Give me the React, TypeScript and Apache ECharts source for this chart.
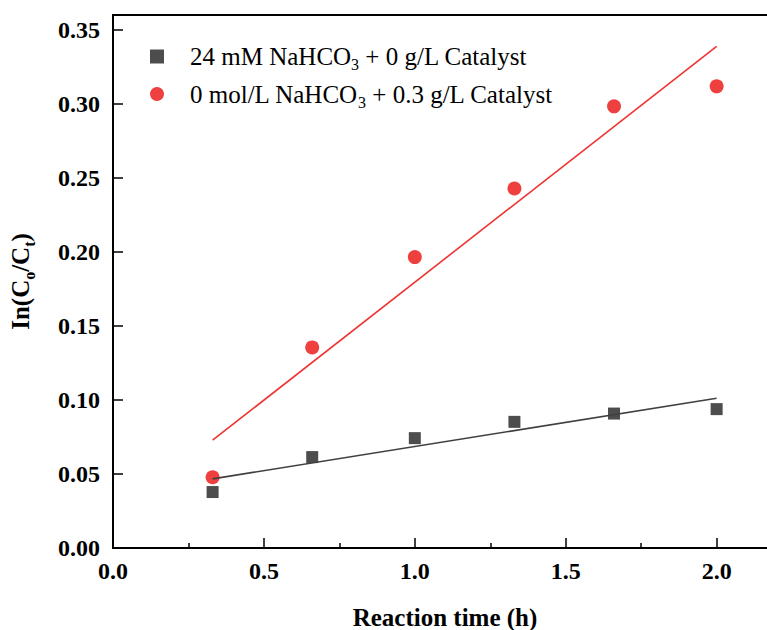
import React, { useEffect, useRef } from "react";
import * as echarts from "echarts";

const timeH = [0.33, 0.66, 1.0, 1.33, 1.66, 2.0];
const bicarbValues = [0.0378, 0.0614, 0.0742, 0.0852, 0.0908, 0.0938];
const catalystValues = [0.0478, 0.1355, 0.1965, 0.2428, 0.2983, 0.3118];
const bicarbFit = [[0.33, 0.0467], [2.0, 0.1012]];
const catalystFit = [[0.33, 0.0728], [2.0, 0.3388]];
const legendNames = ["24 mM NaHCO3 + 0 g/L Catalyst", "0 mol/L NaHCO3 + 0.3 g/L Catalyst"];

const FONT = "'Liberation Serif', 'Times New Roman', serif";

export default function App() {
  const ref = useRef<HTMLDivElement>(null);
  useEffect(() => {
    if (!ref.current) return;
    const chart = echarts.init(ref.current, null, { renderer: "svg" });
    const richLegend = {
      a: { fontSize: 25, fontFamily: FONT, color: "#000", lineHeight: 32, verticalAlign: "middle" },
      sub: { fontSize: 16, fontFamily: FONT, color: "#000", lineHeight: 32, verticalAlign: "bottom" },
    };
    const richName = {
      a: { fontSize: 25, fontWeight: "bold", fontFamily: FONT, color: "#000", lineHeight: 34, verticalAlign: "middle" },
      sub: { fontSize: 16, fontWeight: "bold", fontFamily: FONT, color: "#000", lineHeight: 34, verticalAlign: "bottom" },
    };
    chart.setOption({
      animation: false,
      backgroundColor: "#fff",
      grid: {
        left: 113,
        top: 15,
        bottom: 82,
        right: -10,
        show: true,
        borderColor: "#000",
        borderWidth: 2,
        containLabel: false,
        outerBoundsMode: "none",
      },
      legend: {
        left: 150,
        top: 44,
        padding: 0,
        orient: "vertical",
        itemWidth: 14,
        itemHeight: 14,
        itemGap: 9,
        data: [
          { name: legendNames[0], icon: "rect" },
          { name: legendNames[1], icon: "circle" },
        ],
        formatter: (name: string) => {
          const parts = name.split("NaHCO3");
          return "{a|" + parts[0] + "NaHCO}{sub|3}{a|" + parts[1] + "}";
        },
        textStyle: { rich: richLegend, padding: [0, 0, 0, 21] },
      },
      xAxis: {
        type: "value",
        min: 0,
        max: 2.2,
        interval: 0.5,
        name: "Reaction time (h)",
        nameLocation: "middle",
        nameGap: 57,
        nameTextStyle: { fontSize: 25, fontWeight: "bold", fontFamily: FONT, color: "#000" },
        axisLine: { lineStyle: { color: "#000", width: 2 } },
        axisTick: { inside: true, length: 10, lineStyle: { color: "#000", width: 1.5 } },
        minorTick: { show: true, splitNumber: 2, length: 5, lineStyle: { color: "#000", width: 1.5 } },
        splitLine: { show: false },
        axisLabel: {
          showMaxLabel: false,
          margin: 11,
          fontSize: 24,
          fontWeight: "bold",
          fontFamily: FONT,
          color: "#000",
          formatter: (v: number) => v.toFixed(1),
        },
      },
      yAxis: {
        type: "value",
        min: 0,
        max: 0.36,
        interval: 0.05,
        name: "{a|In(C}{sub|o}{a|/C}{sub|t}{a|)}",
        nameLocation: "middle",
        nameGap: 76,
        nameRotate: 90,
        nameTextStyle: { rich: richName },
        axisLine: { lineStyle: { color: "#000", width: 2 } },
        axisTick: { inside: true, length: 10, lineStyle: { color: "#000", width: 1.5 } },
        splitLine: { show: false },
        axisLabel: {
          showMaxLabel: false,
          margin: 13,
          fontSize: 24,
          fontWeight: "bold",
          fontFamily: FONT,
          color: "#000",
          formatter: (v: number) => v.toFixed(2),
        },
      },
      series: [
        {
          name: legendNames[0],
          type: "scatter",
          symbol: "rect",
          symbolSize: 12,
          itemStyle: { color: "#4d4d4d", opacity: 1 },
          data: timeH.map((x, i) => [x, bicarbValues[i]]),
        },
        {
          name: legendNames[1],
          type: "scatter",
          symbol: "circle",
          symbolSize: 14,
          itemStyle: { color: "#EF4040", opacity: 1 },
          data: timeH.map((x, i) => [x, catalystValues[i]]),
        },
        {
          type: "line",
          symbol: "none",
          lineStyle: { color: "#404040", width: 1.6 },
          data: bicarbFit,
          z: 3,
        },
        {
          type: "line",
          symbol: "none",
          lineStyle: { color: "#EE3333", width: 1.6 },
          data: catalystFit,
          z: 3,
        },
      ],
    });
    return () => chart.dispose();
  }, []);
  return <div ref={ref} style={{ width: 767, height: 630, position: "absolute", left: 0, top: 0 }} />;
}
